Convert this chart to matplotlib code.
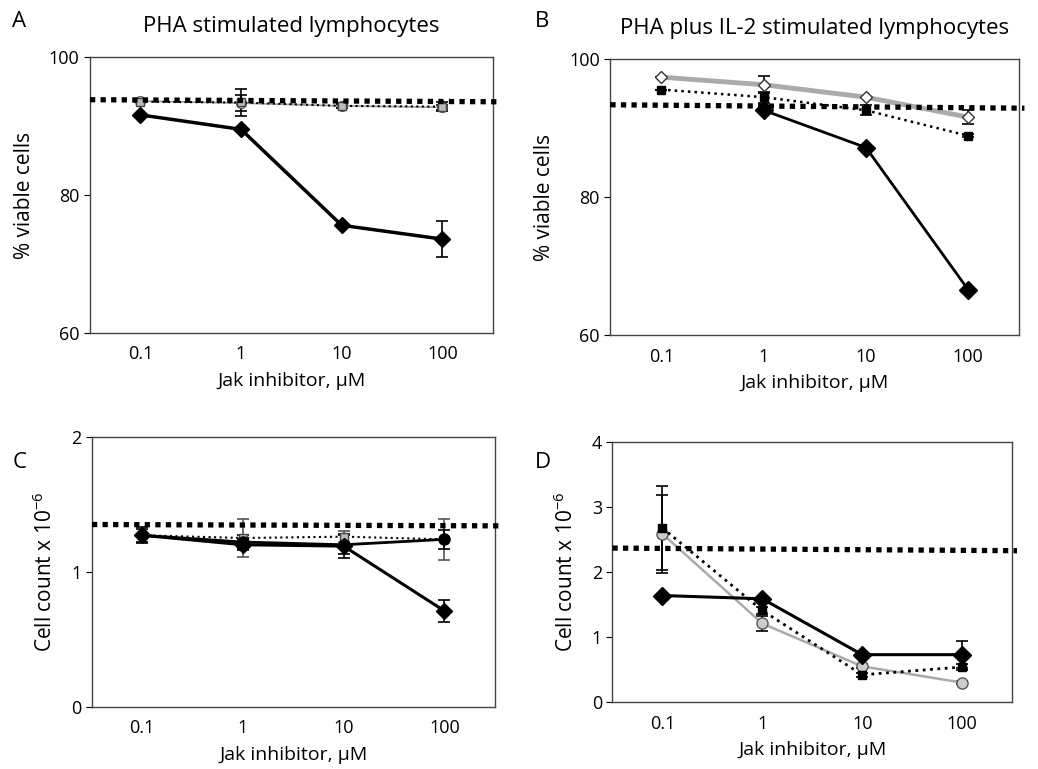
import matplotlib
matplotlib.use('Agg')
import matplotlib.pyplot as plt

plt.rcParams['font.family'] = ['Open Sans', 'DejaVu Sans']

doses = ["0.1", "1", "10", "100"]
pos = [1, 2, 3, 4]

# panel A - PHA, viability
a_jak = [91.6, 89.5, 75.6, 73.6]
a_jak_err = [0, 0, 0, 2.6]
a_dot = [93.5, 93.4, 92.9, 92.8]
a_dot_err = [0, 1.9, 0.3, 0.6]
a_grey = [93.6, 93.3, 92.9, 92.7]
a_grey_err = [0, 1.2, 0.3, 0.4]
a_ref = [93.8, 93.5]

# panel B - PHA + IL-2, viability
b_grey = [97.4, 96.3, 94.5, 91.6]
b_grey_err = [0, 1.2, 0, 1.0]
b_dot = [95.6, 94.5, 92.6, 88.9]
b_dot_err = [0, 0.8, 0.7, 0.2]
b_jak = [92.6, 87.2, 66.6]
b_ref = [93.4, 92.9]

# panel C - PHA, cell count
c_jak = [1.27, 1.20, 1.19, 0.71]
c_jak_err = [0.06, 0.04, 0.09, 0.08]
c_circ = [1.27, 1.22, 1.20, 1.24]
c_circ_err = [0.05, 0.05, 0.07, 0.07]
c_dot = [1.27, 1.25, 1.26, 1.24]
c_dot_err = [0, 0.14, 0.04, 0.15]
c_ref = [1.35, 1.34]

# panel D - PHA + IL-2, cell count
d_jak = [1.64, 1.59, 0.73, 0.73]
d_jak_err = [0, 0, 0, 0.21]
d_dot = [2.68, 1.41, 0.42, 0.54]
d_dot_err = [0.65, 0.05, 0.03, 0.05]
d_grey = [2.59, 1.21, 0.55, 0.30]
d_grey_err = [0.6, 0.11, 0.03, 0.02]
d_ref = [2.37, 2.33]

fig = plt.figure(figsize=(10.38, 7.69), dpi=100)
axA = fig.add_axes([0.0867, 0.567, 0.388, 0.359])
axB = fig.add_axes([0.588, 0.564, 0.394, 0.359])
axC = fig.add_axes([0.0886, 0.081, 0.388, 0.351])
axD = fig.add_axes([0.590, 0.087, 0.385, 0.338])

eb = dict(capsize=4, elinewidth=1.2, capthick=1.2)


def style(ax, lo, hi, step, ylabel):
    ax.set_xlim(0.5, 4.5)
    ax.set_ylim(lo, hi)
    ax.set_yticks(range(lo, hi + 1, step))
    ax.set_xticks(pos)
    ax.set_xticklabels(doses)
    ax.tick_params(axis='x', length=0, labelsize=13, pad=9)
    ax.tick_params(axis='y', length=4, labelsize=13, direction='out')
    for s in ax.spines.values():
        s.set_color('#444444')
        s.set_linewidth(1)
    ax.set_xlabel("Jak inhibitor, \u00b5M", fontsize=14, labelpad=6)
    ax.set_ylabel(ylabel, fontsize=15, labelpad=10)


def ref(ax, vals):
    ax.plot([0.5, 4.55], vals, color='black', lw=3.8, dashes=(1, 1),
            solid_capstyle='butt', dash_capstyle='butt', clip_on=False, zorder=5)


# A
axA.errorbar(pos, a_grey, yerr=a_grey_err, color='#999999', lw=1.2,
             marker='o', ms=7, mfc='white', mec='#555555', ecolor='black', **eb)
axA.errorbar(pos, a_dot, yerr=a_dot_err, color='black', lw=1.5, ls=':',
             marker='s', ms=6, mfc='#bbbbbb', mec='#444444', ecolor='black', **eb)
axA.errorbar(pos, a_jak, yerr=a_jak_err, color='black', lw=2.5,
             marker='D', ms=8, mfc='black', mec='black', ecolor='black', **eb)
ref(axA, a_ref)
style(axA, 60, 100, 20, "% viable cells")
axA.set_title("PHA stimulated lymphocytes", fontsize=16, pad=18)

# B
axB.errorbar(pos, b_grey, yerr=b_grey_err, color='#aaaaaa', lw=3.5,
             marker='D', ms=6, mfc='white', mec='#333333', ecolor='black', **eb)
axB.errorbar(pos, b_dot, yerr=b_dot_err, color='black', lw=1.8, ls=':',
             marker='s', ms=6, mfc='black', mec='black', ecolor='black', **eb)
axB.plot(pos[1:], b_jak, color='black', lw=2, marker='D', ms=9, mfc='black')
ref(axB, b_ref)
style(axB, 60, 100, 20, "% viable cells")
axB.set_title("PHA plus IL-2 stimulated lymphocytes", fontsize=16, pad=18)

# C
axC.errorbar(pos, c_dot, yerr=c_dot_err, color='black', lw=1.5, ls=':',
             marker='s', ms=6, mfc='#bbbbbb', mec='#444444', ecolor='#555555', **eb)
axC.errorbar(pos, c_circ, yerr=c_circ_err, color='black', lw=2,
             marker='o', ms=8, mfc='black', mec='black', ecolor='black', **eb)
axC.errorbar(pos, c_jak, yerr=c_jak_err, color='black', lw=2.2,
             marker='D', ms=8, mfc='black', mec='black', ecolor='black', **eb)
ref(axC, c_ref)
style(axC, 0, 2, 1, "Cell count x 10$^{\\mathregular{-6}}$")

# D
axD.errorbar(pos, d_grey, yerr=d_grey_err, color='#aaaaaa', lw=1.8,
             marker='o', ms=8, mfc='#cccccc', mec='#555555', ecolor='black', **eb)
axD.errorbar(pos, d_dot, yerr=d_dot_err, color='black', lw=2, ls=':',
             marker='s', ms=6, mfc='black', mec='black', ecolor='black', **eb)
axD.errorbar(pos, d_jak, yerr=d_jak_err, color='black', lw=2.2,
             marker='D', ms=9, mfc='black', mec='black', ecolor='black', **eb)
ref(axD, d_ref)
style(axD, 0, 4, 1, "Cell count x 10$^{\\mathregular{-6}}$")

for lab, x, y in [("A", 0.012, 0.972), ("B", 0.515, 0.972),
                  ("C", 0.012, 0.398), ("D", 0.515, 0.398)]:
    fig.text(x, y, lab, fontsize=16, va='center')

fig.savefig("out.png", dpi=100)
